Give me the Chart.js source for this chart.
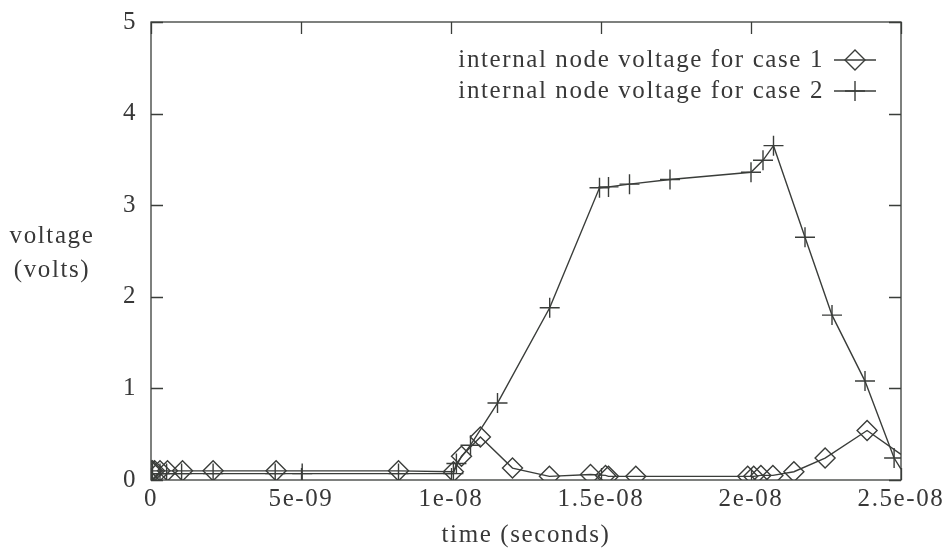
<!DOCTYPE html>
<html>
<head>
<meta charset="utf-8">
<script src="https://cdn.jsdelivr.net/npm/chart.js@4/dist/chart.umd.min.js"></script>
<style>
  html, body { margin: 0; padding: 0; background: #ffffff; }
  #wrap { width: 946px; height: 548px; }
</style>
</head>
<body>
<div id="wrap"><canvas id="c" width="946" height="548"></canvas></div>
<script>
// Simulated internal node voltage, two cases
const case1Time = [0, 0.05e-9, 0.12e-9, 0.3e-9, 0.55e-9, 1.05e-9, 2.07e-9, 4.17e-9, 8.25e-9,
  1.008e-8, 1.035e-8, 1.098e-8, 1.205e-8, 1.328e-8, 1.465e-8, 1.515e-8, 1.525e-8, 1.616e-8,
  1.989e-8, 2.009e-8, 2.033e-8, 2.073e-8, 2.143e-8, 2.247e-8, 2.387e-8, 2.5e-8];
const case1Volt = [0.1, 0.1, 0.1, 0.1, 0.1, 0.1, 0.1, 0.1, 0.1,
  0.09, 0.26, 0.47, 0.13, 0.04, 0.06, 0.05, 0.04, 0.04,
  0.04, 0.04, 0.05, 0.05, 0.09, 0.24, 0.54, 0.28];

const case2Time = [0, 0.05e-9, 0.3e-9, 0.52e-9, 1.02e-9, 2.07e-9, 4.14e-9, 5.04e-9, 8.25e-9,
  1.008e-8, 1.018e-8, 1.065e-8, 1.155e-8, 1.329e-8, 1.495e-8, 1.525e-8, 1.595e-8, 1.73e-8,
  2.0e-8, 2.04e-8, 2.075e-8, 2.18e-8, 2.27e-8, 2.38e-8, 2.477e-8, 2.5e-8];
const case2Volt = [0.07, 0.07, 0.07, 0.07, 0.07, 0.07, 0.07, 0.07, 0.07,
  0.07, 0.18, 0.38, 0.84, 1.88, 3.19, 3.2, 3.23, 3.28,
  3.36, 3.49, 3.65, 2.65, 1.80, 1.08, 0.24, 0.12];

const seriesLabels = ['internal node voltage for case 1', 'internal node voltage for case 2'];
const xTickValues = [0, 5e-9, 1e-8, 1.5e-8, 2e-8, 2.5e-8];
const xTickLabels = ['0', '5e-09', '1e-08', '1.5e-08', '2e-08', '2.5e-08'];
const yTickValues = [0, 1, 2, 3, 4, 5];
const yTickLabels = ['0', '1', '2', '3', '4', '5'];
const xTitle = 'time (seconds)';
const yTitleLines = ['voltage', '(volts)'];

const INK = '#3a3d3a';
const TEXT = '#383838';
const FONT_FAMILY = '"Liberation Serif", "Times New Roman", serif';
const FONT_SIZE = 25;
const LETTER_SPACING = '1.6px';
const X_MIN = xTickValues[0];
const X_MAX = xTickValues[xTickValues.length - 1];

const toPoints = (xs, ys) => xs.map((x, i) => ({ x: x, y: ys[i] }));

// markers are not drawn on points that sit on the right border
const markerRadius = r => ctx => (ctx.raw && ctx.raw.x >= X_MAX) ? 0 : r;

const styles = [
  { pointStyle: 'rectRot', radius: 10 },
  { pointStyle: 'cross', radius: 10 }
];

// wide-set serif lettering for every label on the canvas
const spacingPlugin = {
  id: 'spacing',
  beforeLayout(chart) { chart.ctx.letterSpacing = LETTER_SPACING; },
  beforeDraw(chart) { chart.ctx.letterSpacing = LETTER_SPACING; }
};

// plot frame, inward tics, legend and axis titles
const framePlugin = {
  id: 'frame',
  afterDraw(chart) {
    const { ctx, chartArea: a, scales } = chart;
    const xs = scales.x, ys = scales.y;
    const tl = 12;
    ctx.save();
    ctx.strokeStyle = INK;
    ctx.lineWidth = 1.3;
    ctx.strokeRect(a.left, a.top, a.right - a.left, a.bottom - a.top);
    ctx.beginPath();
    xTickValues.forEach(v => {
      const p = Math.round(xs.getPixelForValue(v)) + 0.5;
      ctx.moveTo(p, a.bottom); ctx.lineTo(p, a.bottom - tl);
      ctx.moveTo(p, a.top); ctx.lineTo(p, a.top + tl);
    });
    yTickValues.forEach(v => {
      const p = Math.round(ys.getPixelForValue(v)) + 0.5;
      ctx.moveTo(a.left, p); ctx.lineTo(a.left + tl, p);
      ctx.moveTo(a.right, p); ctx.lineTo(a.right - tl, p);
    });
    ctx.stroke();

    // legend: text right-aligned, sample line with marker to its right
    ctx.font = FONT_SIZE + 'px ' + FONT_FAMILY;
    ctx.letterSpacing = LETTER_SPACING;
    ctx.textBaseline = 'middle';
    ctx.textAlign = 'right';
    const textRight = 824, lineL = 834, lineR = 876, rowY = [60, 91];
    chart.data.datasets.forEach((ds, i) => {
      ctx.fillStyle = TEXT;
      ctx.fillText(ds.label, textRight, rowY[i]);
      ctx.beginPath();
      ctx.lineWidth = 1.4;
      ctx.moveTo(lineL, rowY[i]); ctx.lineTo(lineR, rowY[i]);
      ctx.stroke();
      ctx.fillStyle = 'rgba(0,0,0,0)';
      Chart.helpers.drawPoint(ctx, {
        pointStyle: styles[i].pointStyle, radius: styles[i].radius, rotation: 0, borderWidth: 1.4
      }, (lineL + lineR) / 2, rowY[i]);
    });

    // axis titles
    ctx.fillStyle = TEXT;
    ctx.textAlign = 'center';
    ctx.fillText(xTitle, (a.left + a.right) / 2, 535);
    ctx.fillText(yTitleLines[0], 52, 236);
    ctx.fillText(yTitleLines[1], 52, 270);
    ctx.restore();
  }
};

new Chart(document.getElementById('c'), {
  type: 'line',
  data: {
    datasets: [
      {
        label: seriesLabels[0],
        data: toPoints(case1Time, case1Volt),
        borderColor: INK,
        backgroundColor: 'rgba(0,0,0,0)',
        borderWidth: 1.4,
        pointStyle: styles[0].pointStyle,
        pointRadius: markerRadius(styles[0].radius),
        pointBorderWidth: 1.4,
        pointBorderColor: INK,
        pointBackgroundColor: 'rgba(0,0,0,0)',
        tension: 0
      },
      {
        label: seriesLabels[1],
        data: toPoints(case2Time, case2Volt),
        borderColor: INK,
        backgroundColor: 'rgba(0,0,0,0)',
        borderWidth: 1.4,
        pointStyle: styles[1].pointStyle,
        pointRadius: markerRadius(styles[1].radius),
        pointBorderWidth: 1.4,
        pointBorderColor: INK,
        pointBackgroundColor: 'rgba(0,0,0,0)',
        tension: 0
      }
    ]
  },
  options: {
    responsive: false,
    animation: false,
    devicePixelRatio: 1,
    layout: { padding: { top: 22, right: 45, left: 0, bottom: 0 } },
    plugins: { legend: { display: false }, tooltip: { enabled: false } },
    scales: {
      x: {
        type: 'linear',
        min: X_MIN,
        max: X_MAX,
        grid: { display: false },
        border: { display: false },
        afterFit: s => { s.height = 68; },
        afterBuildTicks: s => { s.ticks = xTickValues.map(v => ({ value: v })); },
        ticks: {
          autoSkip: false,
          maxRotation: 0,
          padding: -4,
          color: TEXT,
          font: { family: FONT_FAMILY, size: FONT_SIZE },
          callback: (v, i) => xTickLabels[i]
        }
      },
      y: {
        type: 'linear',
        min: 0,
        max: 5,
        grid: { display: false },
        border: { display: false },
        afterFit: s => { s.width = 151; },
        afterBuildTicks: s => { s.ticks = yTickValues.map(v => ({ value: v })); },
        ticks: {
          padding: 6,
          color: TEXT,
          font: { family: FONT_FAMILY, size: FONT_SIZE },
          callback: (v, i) => yTickLabels[i]
        }
      }
    }
  },
  plugins: [spacingPlugin, framePlugin]
});
</script>
</body>
</html>
